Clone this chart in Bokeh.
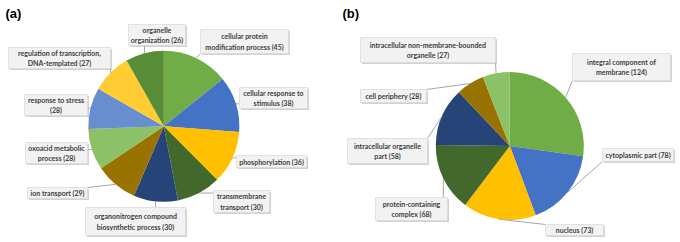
import math
from bokeh.plotting import figure
from bokeh.models import Range1d, ColumnDataSource
from bokeh.core.properties import value
from bokeh.embed import file_html
from bokeh.resources import INLINE

W, H = 680, 242

# ---- data: panel (a) biological process ----
a_labels = [
    "cellular protein\nmodification process (45)",
    "cellular response to\nstimulus (38)",
    "phosphorylation (36)",
    "transmembrane\ntransport (30)",
    "organonitrogen compound\nbiosynthetic process (30)",
    "ion transport (29)",
    "oxoacid metabolic\nprocess (28)",
    "response to stress\n(28)",
    "regulation of transcription,\nDNA-templated (27)",
    "organelle\norganization (26)",
]
a_values = [45, 38, 36, 30, 30, 29, 28, 28, 27, 26]
a_colors = ["#70AD47", "#4472C4", "#FFC000", "#43682B", "#264478",
            "#997300", "#8CC168", "#698ED0", "#FFCD33", "#588C37"]

# ---- data: panel (b) cellular component ----
b_labels = [
    "integral component of\nmembrane (124)",
    "cytoplasmic part (78)",
    "nucleus (73)",
    "protein-containing\ncomplex (68)",
    "intracellular organelle\npart (58)",
    "cell periphery (28)",
    "intracellular non-membrane-bounded\norganelle (27)",
]
b_values = [124, 78, 73, 68, 58, 28, 27]
b_colors = ["#70AD47", "#4472C4", "#FFC000", "#43682B", "#264478",
            "#997300", "#8CC168"]

# ---- layout (image pixel coords, y downward) ----
a_center, a_r = (163.3, 125.8), 75.5
b_center, b_r = (509.3, 145.5), 74.0
# label boxes: (x0, y0, x1, y1)
a_boxes = [
    (200, 29, 288, 53),
    (239, 87, 307, 108),
    (236, 155, 306, 167),
    (213, 190, 269, 212),
    (85, 207, 185, 235),
    (27, 187, 87, 198),
    (25, 142, 87, 163),
    (24, 94, 87, 115),
    (8, 47, 110, 68),
    (128, 24, 185, 45),
]
b_boxes = [
    (572, 53, 670, 80),
    (602, 148, 673, 161),
    (545, 224, 603, 235),
    (375, 197, 447, 220),
    (347, 138, 427, 163),
    (360, 89, 426, 102),
    (360, 37, 495, 62),
]


def Y(y):
    return H - y


p = figure(width=W, height=H, x_range=Range1d(0, W), y_range=Range1d(0, H),
           output_backend="svg", toolbar_location=None, min_border=0,
           background_fill_color="white", border_fill_color="white")
p.axis.visible = False
p.grid.visible = False
p.outline_line_color = None


def draw_pie(values, colors, labels, center, r, boxes):
    total = float(sum(values))
    cx, cy = center
    starts, ends, mids = [], [], []
    cum = 0.0
    for v in values:
        t0 = cum / total * 2 * math.pi
        cum += v
        t1 = cum / total * 2 * math.pi
        starts.append(math.pi / 2 - t0)
        ends.append(math.pi / 2 - t1)
        mids.append((t0 + t1) / 2)
    src = ColumnDataSource(dict(start=starts, end=ends, color=colors))
    p.wedge(x=cx, y=Y(cy), radius=r, start_angle="start", end_angle="end",
            direction="clock", fill_color="color", line_color=None, source=src)

    # leader lines
    xs, ys = [], []
    for t, (x0, y0, x1, y1) in zip(mids, boxes):
        px = cx + r * math.sin(t)
        py = cy - r * math.cos(t)
        bx = min(max(px, x0), x1)
        by = min(max(py, y0), y1)
        xs.append([bx, px])
        ys.append([Y(by), Y(py)])
    p.multi_line(xs=xs, ys=ys, line_color="#A6A6A6", line_width=1)

    # boxes with shadow
    l = [b[0] for b in boxes]
    rr = [b[2] for b in boxes]
    t = [Y(b[1]) for b in boxes]
    bt = [Y(b[3]) for b in boxes]
    p.quad(left=[v + 1.5 for v in l], right=[v + 1.5 for v in rr],
           top=[v - 1.5 for v in t], bottom=[v - 1.5 for v in bt],
           fill_color="#BFBFBF", fill_alpha=0.7, line_color=None)
    p.quad(left=l, right=rr, top=t, bottom=bt,
           fill_color="#F2F2F2", line_color="#DADADA", line_width=0.8)
    tx = [(b[0] + b[2]) / 2 for b in boxes]
    ty = [Y((b[1] + b[3]) / 2) for b in boxes]
    p.text(x=tx, y=ty, text=labels, text_align="center", text_baseline="middle",
           text_font=value("Lato"), text_font_style="bold",
           text_font_size="7px", text_color="#404040", text_line_height=1.3)


draw_pie(a_values, a_colors, a_labels, a_center, a_r, a_boxes)
draw_pie(b_values, b_colors, b_labels, b_center, b_r, b_boxes)

p.text(x=[5, 342], y=[Y(13), Y(13)], text=["(a)", "(b)"], text_align="left",
       text_baseline="middle", text_font=value("Liberation Sans"),
       text_font_style="bold", text_font_size="13px", text_color="black")

open("out.html", "w").write(file_html(p, INLINE))
